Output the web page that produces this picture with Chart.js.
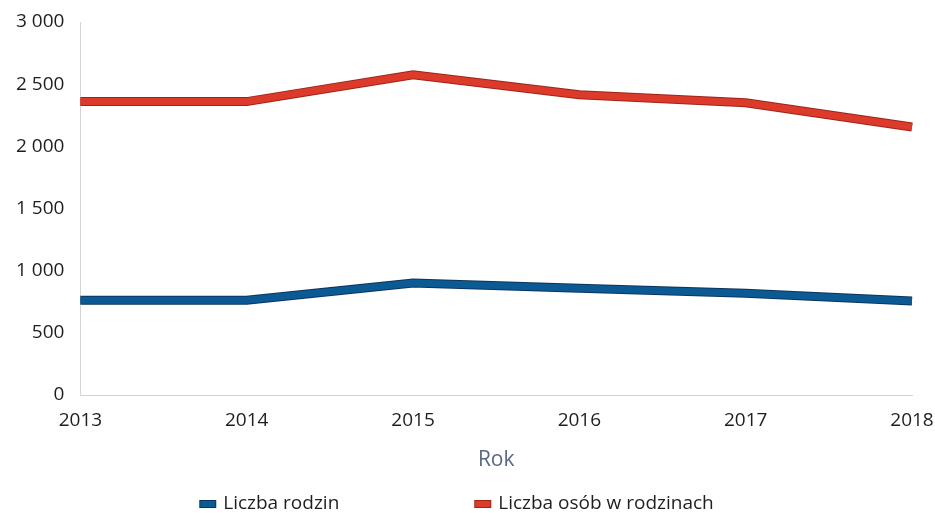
<!DOCTYPE html>
<html>
<head>
<meta charset="utf-8">
<script src="https://cdn.jsdelivr.net/npm/chart.js@4/dist/chart.umd.min.js"></script>
<style>
  html, body { margin: 0; padding: 0; background: #fff; }
  #wrap { width: 935px; height: 513px; }
</style>
</head>
<body>
<div id="wrap"><canvas id="chart"></canvas></div>
<script>
// dane z wykresu
const years = ['2013', '2014', '2015', '2016', '2017', '2018'];
const liczbaRodzin = [762, 762, 900, 858, 818, 756];
const liczbaOsob = [2360, 2360, 2575, 2415, 2350, 2155];
const seriesNames = ['Liczba rodzin', 'Liczba osób w rodzinach'];
const seriesColors = ['#0c5a93', '#dc3a2a'];
const edgeColors = ['#0a3560', '#9e2418'];

const FONT = '"Open Sans", "Noto Sans", sans-serif';

// thousands separator with a space, e.g. "2 500"
function fmt(v) {
  return String(v).replace(/\B(?=(\d{3})+(?!\d))/g, ' ');
}

// legenda rysowana recznie pod osia X (odstep jak w oryginale)
const bottomLegend = {
  id: 'bottomLegend',
  afterDraw(chart) {
    const ctx = chart.ctx;
    const gap = 135;
    ctx.save();
    ctx.font = '19px ' + FONT;
    ctx.textBaseline = 'middle';
    const items = seriesNames.map((name, i) => ({
      name, color: seriesColors[i], edge: edgeColors[i],
      w: 17 + 7 + ctx.measureText(name).width
    }));
    const total = items.reduce((s, it) => s + it.w, 0) + gap * (items.length - 1);
    let x = (chart.width - total) / 2 - 11;
    const y = chart.height - 9;
    items.forEach(it => {
      ctx.fillStyle = it.edge;
      ctx.fillRect(x, y - 4, 17, 8);
      ctx.fillStyle = it.color;
      ctx.fillRect(x + 1, y - 3, 15, 6);
      ctx.fillStyle = '#1e1e1e';
      ctx.fillText(it.name, x + 24, y);
      x += it.w + gap;
    });
    ctx.restore();
  }
};

const datasets = [];
[liczbaRodzin, liczbaOsob].forEach((values, i) => {
  // ciemna obwodka pod linia
  datasets.push({
    label: seriesNames[i] + ' (obrys)',
    data: values,
    borderColor: edgeColors[i],
    borderWidth: 9,
    pointRadius: 0,
    borderCapStyle: 'butt',
    borderJoinStyle: 'miter',
    tension: 0,
    order: 2 - i * 2 + 1
  });
  datasets.push({
    label: seriesNames[i],
    data: values,
    borderColor: seriesColors[i],
    borderWidth: 7,
    pointRadius: 0,
    borderCapStyle: 'butt',
    borderJoinStyle: 'miter',
    tension: 0,
    order: 2 - i * 2
  });
});

new Chart(document.getElementById('chart'), {
  type: 'line',
  data: { labels: years, datasets: datasets },
  plugins: [bottomLegend],
  options: {
    responsive: true,
    maintainAspectRatio: false,
    animation: false,
    layout: { padding: { top: 0, left: 0, right: 0, bottom: 40 } },
    plugins: {
      legend: { display: false },
      tooltip: { enabled: false }
    },
    scales: {
      x: {
        offset: false,
        grid: { display: false, drawTicks: false },
        border: { display: true, color: '#d4d4d4', dash: [1, 3] },
        ticks: { color: '#1e1e1e', font: { family: FONT, size: 19 }, padding: 14, maxRotation: 0 },
        title: {
          display: true, text: 'Rok', color: '#5b6984',
          font: { family: FONT, size: 21 }, padding: { top: 2, bottom: 0 }
        },
        afterFit(scale) { scale.paddingRight = 23; }
      },
      y: {
        min: 0, max: 3000,
        grid: { display: false, drawTicks: false },
        border: { display: true, color: '#d4d4d4', dash: [1, 3] },
        ticks: {
          stepSize: 500, color: '#1e1e1e', padding: 16,
          font: { family: FONT, size: 19 },
          callback: v => fmt(v)
        },
        afterFit(scale) { scale.paddingTop = 22; }
      }
    }
  }
});
</script>
</body>
</html>
